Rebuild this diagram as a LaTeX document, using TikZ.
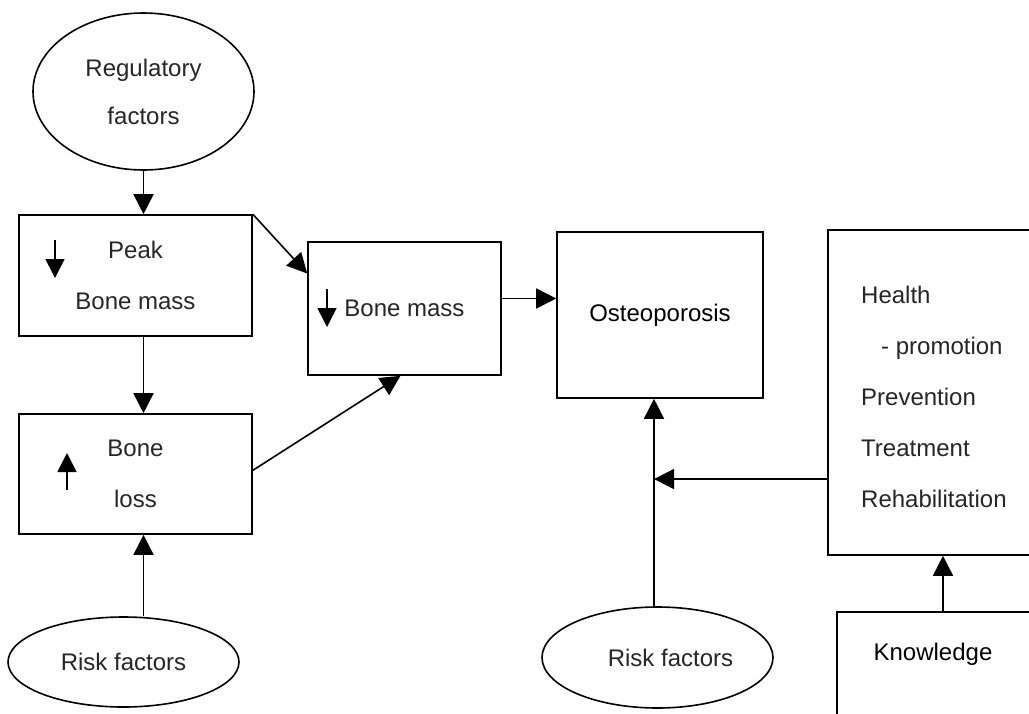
\documentclass[tikz,border=0pt]{standalone}
\usepackage{fontspec}
\setmainfont{Liberation Sans}
\usetikzlibrary{shapes.geometric,arrows.meta,calc}
\newcommand\dgfont{\fontsize{24}{51}\selectfont}
\definecolor{txtgray}{HTML}{262626}
\begin{document}
\begin{tikzpicture}[x=1pt,y=-1pt,
  lbl/.style={inner sep=0pt, align=center, font=\dgfont, text=txtgray},
  box/.style={draw, line width=1.6pt, lbl},
  ell/.style={draw, ellipse, line width=1.6pt, lbl},
  arr/.style={line width=1.6pt, -{Triangle[length=20pt,width=20pt]}},
  glyph/.style={line width=1.6pt, -{Triangle[length=19pt,width=19pt]}}]
\useasboundingbox (0,0) rectangle (1029,713);
\clip (0,0) rectangle (1029,713);
\fill[white] (0,0) rectangle (1029,713);
% nodes
\node[ell, minimum width=221pt, minimum height=157pt, font=\fontsize{24}{48}\selectfont] (reg) at (143.5,91.5) {Regulatory\\factors};
\node[box, minimum width=233pt, minimum height=121pt] (peak) at (135.5,275.5) {Peak\\Bone mass};
\node[box, minimum width=233pt, minimum height=120pt] (loss) at (135.5,474) {Bone\\loss};
\node[ell, minimum width=231pt, minimum height=90pt] (rf1) at (123.5,662) {Risk factors};
\node[box, minimum width=193pt, minimum height=133pt] (bm) at (404.5,308.5) {Bone mass};
\node[box, minimum width=206pt, minimum height=166pt, text=black] (ost) at (660,315) {Osteoporosis};
\node[ell, minimum width=231pt, minimum height=101pt] (rf2) at (657.5,657.5) {\hspace*{13pt}Risk factors\hspace*{-13pt}};
\node[box, minimum width=221pt, minimum height=325pt] (hp) at (938.5,392.5) {};
\node[lbl, anchor=west, align=left] (hpt) at (861,397) {Health\\\hspace*{20pt}- promotion\\Prevention\\Treatment\\Rehabilitation};
\node[box, minimum width=212pt, minimum height=130pt] (kn) at (943,677) {};
\node[lbl, text=black] (knt) at (933,654) {Knowledge};
% small arrow glyphs
\draw[glyph] (55,240) -- (55,278);
\draw[glyph] (327,289) -- (327,327);
\draw[glyph] (67,490) -- (67,453);
% connectors
\draw[arr] (reg.south) -- (reg.south |- peak.north);
\draw[arr] (reg.south |- peak.south) -- (reg.south |- loss.north);
\draw[arr] (reg.south |- rf1.north) -- (reg.south |- loss.south);
\draw[arr] (peak.north east) -- ($(bm.north west)!0.24!(bm.south west)$);
\draw[arr] ($(loss.north east)!0.47!(loss.south east)$) -- ($(bm.south)+(-4,0)$);
\draw[arr] ($(bm.east)+(0,-10)$) coordinate (bme) -- (bme -| ost.west);
\coordinate (ostin) at ($(ost.south)+(-6,0)$);
\draw[arr] (ostin |- rf2.north) -- (ostin);
\draw[arr] ($(hp.north west)!0.765!(hp.south west)$) coordinate (hpw) -- (hpw -| ostin);
\draw[arr] (kn.north) -- (kn.north |- hp.south);
\end{tikzpicture}
\end{document}
